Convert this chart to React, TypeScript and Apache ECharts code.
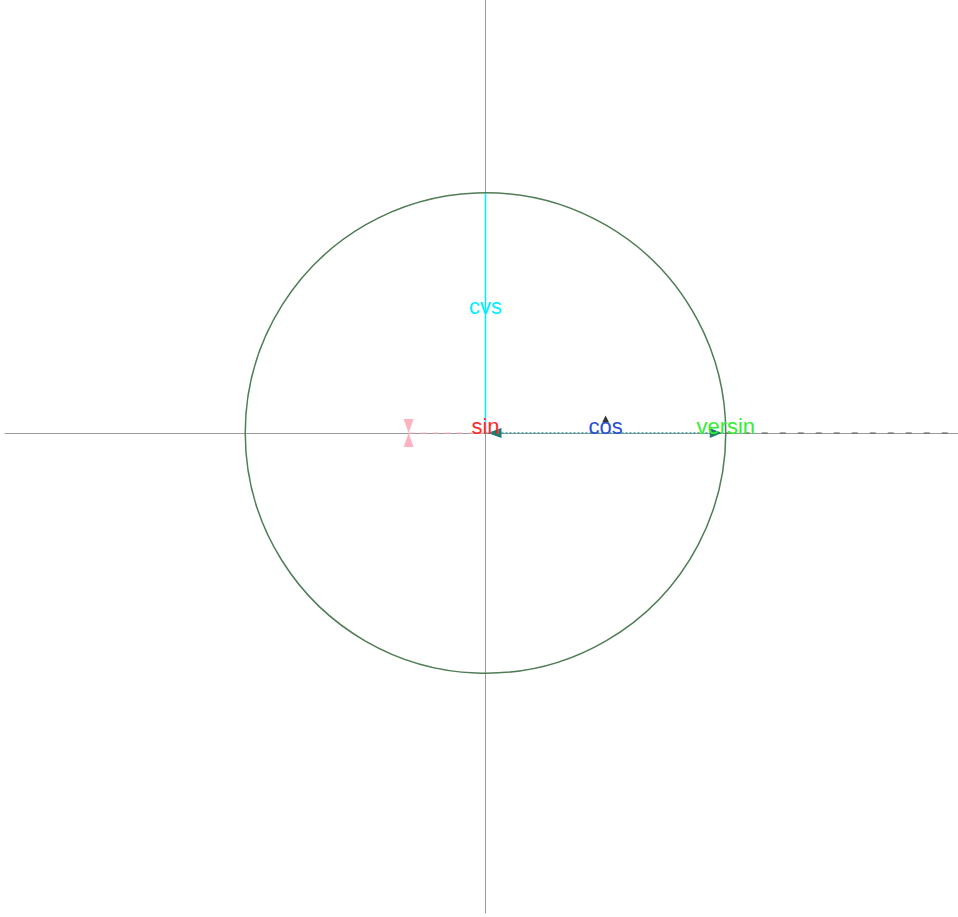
import React, { useEffect, useRef } from 'react';
import * as echarts from 'echarts';

// Axis extent (units)
const axisRange = [-2, 2];

// Unit circle: [cx, cy, r]
const circleData = [[0, 0, 1]];

// Segments: [x1, y1, x2, y2]
const cvsSegment = [0, 0, 0, 1];
const cosSegment = [0, 0, 1, 0];
const negSegment = [-0.32, 0, 0, 0];
const extSegment = [1, 0, 2.2, 0];

// Labels
const labelNames = ['cvs', 'cos', 'sin', 'versin'];
const labelX = [0, 0.5, 0, 1];
const labelY = [0.5, 0, 0, 0];

// small marker above cos label
const markerPoint = [0.5, 0.06];

const FONT = '"Liberation Sans", Arial, sans-serif';

function tri(tip: number[], dir: number[], len: number, half: number) {
  const bx = tip[0] - dir[0] * len;
  const by = tip[1] - dir[1] * len;
  const px = -dir[1];
  const py = dir[0];
  return [
    [tip[0], tip[1]],
    [bx + px * half, by + py * half],
    [bx - px * half, by - py * half],
  ];
}

function segSeries(seg: number[], stroke: string, lineDash: any, width: number, z: number, extra?: (a: number[], b: number[]) => any[]) {
  return {
    type: 'custom',
    z,
    silent: true,
    clip: false,
    data: [seg],
    encode: { x: [0, 2], y: [1, 3] },
    renderItem: (params: any, api: any) => {
      const a = api.coord([api.value(0), api.value(1)]);
      const b = api.coord([api.value(2), api.value(3)]);
      const children: any[] = [
        {
          type: 'line',
          shape: { x1: a[0], y1: a[1], x2: b[0], y2: b[1] },
          style: { stroke, lineWidth: width, lineDash },
        },
      ];
      if (extra) children.push(...extra(a, b));
      return { type: 'group', children };
    },
  };
}

export default function App() {
  const ref = useRef<HTMLDivElement>(null);
  useEffect(() => {
    if (!ref.current) return;
    const chart = echarts.init(ref.current, undefined, { renderer: 'svg' });
    const axisCommon = {
      type: 'value',
      min: axisRange[0],
      max: axisRange[1],
      axisLine: { show: true, onZero: true, lineStyle: { color: '#9a9a9a', width: 1 } },
      axisTick: { show: false },
      axisLabel: { show: false },
      splitLine: { show: false },
    };
    chart.setOption({
      animation: false,
      backgroundColor: '#ffffff',
      grid: { left: 5, top: 0, width: 961, height: 960, containLabel: false, outerBoundsMode: 'none' },
      xAxis: axisCommon,
      yAxis: axisCommon,
      series: [
        segSeries(extSegment, '#555555', [6, 12], 1.2, 2),
        segSeries(negSegment, '#ffb3c0', [6, 6], 1.2, 3, (a) => {
          return [
            { type: 'polygon', shape: { points: tri(a, [0, 1], 14, 5) }, style: { fill: '#ffb3c0' } },
            { type: 'polygon', shape: { points: tri(a, [0, -1], 14, 5) }, style: { fill: '#ffb3c0' } },
          ];
        }),
        segSeries(cvsSegment, '#00f0ff', null, 1.5, 4),
        segSeries(cosSegment, '#2f9a9a', [2, 2], 1.5, 5, (a, b) => {
          const tipR = [b[0] - 4, b[1]];
          return [
            { type: 'polygon', shape: { points: tri([a[0] + 2, a[1]], [-1, 0], 14, 5) }, style: { fill: '#1f7a72' } },
            { type: 'polygon', shape: { points: tri(tipR, [1, 0], 12, 5) }, style: { fill: '#1f7a72' } },
          ];
        }),
        {
          type: 'custom',
          z: 6,
          silent: true,
          clip: false,
          data: circleData,
          renderItem: (params: any, api: any) => {
            const c = api.coord([api.value(0), api.value(1)]);
            const e = api.coord([api.value(0) + api.value(2), api.value(1)]);
            const r = Math.abs(e[0] - c[0]);
            return {
              type: 'circle',
              shape: { cx: c[0], cy: c[1], r },
              style: { fill: 'none', stroke: '#4f7d55', lineWidth: 1.5 },
            };
          },
        },
        {
          type: 'custom',
          z: 7,
          silent: true,
          clip: false,
          data: [markerPoint],
          renderItem: (params: any, api: any) => {
            const p = api.coord([api.value(0), api.value(1)]);
            return {
              type: 'polygon',
              shape: { points: tri([p[0], p[1] - 3], [0, -1], 7, 3.5) },
              style: { fill: '#333333' },
            };
          },
        },
        {
          type: 'custom',
          z: 10,
          silent: true,
          clip: false,
          data: labelNames.map((n, i) => [labelX[i], labelY[i], i]),
          renderItem: (params: any, api: any) => {
            const p = api.coord([api.value(0), api.value(1)]);
            const i = api.value(2);
            const colors = ['#00eeff', '#2b4fd0', '#ff2a2a', '#33ee33'];
            return {
              type: 'text',
              style: {
                text: labelNames[i],
                x: p[0],
                y: p[1] + 4,
                fill: colors[i],
                fontSize: 22,
                fontFamily: FONT,
                align: 'center',
                verticalAlign: 'bottom',
              },
            };
          },
        },
      ],
    });
    return () => chart.dispose();
  }, []);
  return (
    <div style={{ position: 'fixed', left: 0, top: 0, width: 958, height: 917, overflow: 'hidden', background: '#fff' }}>
      <div
        ref={ref}
        style={{ position: 'absolute', left: 0, top: -47, width: 975, height: 1010 }}
      />
    </div>
  );
}
